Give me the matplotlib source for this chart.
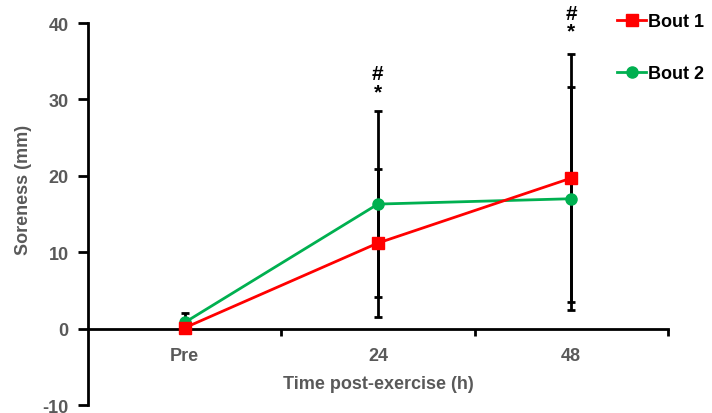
import numpy as np
import matplotlib
matplotlib.use("Agg")
import matplotlib.pyplot as plt

plt.rcParams['font.family'] = ['Liberation Sans', 'DejaVu Sans']
plt.rcParams['axes.unicode_minus'] = False

# data
times = ["Pre", "24", "48"]
bout1 = [0.1, 11.2, 19.7]
bout1_sd = [0.4, 9.7, 16.2]
bout2 = [0.8, 16.3, 17.0]
bout2_sd = [1.3, 12.2, 14.6]
marks = ["", "#\n*", "#\n*"]
mark_y = [0, 29.8, 37.7]

fig = plt.figure(figsize=(7.12, 4.14), dpi=100)
ax = fig.add_axes([0.1236, 0.0193, 0.8144, 0.9227])

x = np.arange(len(times))
grey = "#595959"

# error bars (black)
ax.errorbar(x, bout2, yerr=bout2_sd, fmt="none", ecolor="black", elinewidth=2,
            capsize=3, capthick=2, zorder=2)
ax.errorbar(x, bout1, yerr=bout1_sd, fmt="none", ecolor="black", elinewidth=2,
            capsize=3, capthick=2, zorder=2)

l1, = ax.plot(x, bout1, color="#FF0000", marker="s", markersize=8, lw=2,
              label="Bout 1", zorder=4)
l2, = ax.plot(x, bout2, color="#00B050", marker="o", markersize=8, lw=2,
              label="Bout 2", zorder=3)

for xi, m, my in zip(x, marks, mark_y):
    if m:
        ax.text(xi, my, m, ha="center", va="bottom", fontsize=15,
                fontweight="bold", linespacing=0.9, clip_on=False)

ax.set_xlim(-0.5, 2.5)
ax.set_ylim(-10, 40)
ax.set_yticks([-10, 0, 10, 20, 30, 40])
ax.set_xticks(x)
ax.set_xticklabels(times)
ax.set_xticks([0.5, 1.5, 2.5], minor=True)

ax.spines["top"].set_visible(False)
ax.spines["right"].set_visible(False)
ax.spines["bottom"].set_position(("data", 0))
ax.spines["bottom"].set_linewidth(2)
ax.spines["left"].set_linewidth(2)

ax.tick_params(axis="x", which="major", length=0, pad=13, labelsize=13,
               labelcolor=grey)
ax.tick_params(axis="x", which="minor", length=5, width=2, direction="out")
ax.tick_params(axis="y", length=7, width=2, direction="out", labelsize=13,
               labelcolor=grey, pad=7)
for lab in ax.get_xticklabels() + ax.get_yticklabels():
    lab.set_fontweight("bold")

ax.set_xlabel("Time post-exercise (h)", fontsize=13, fontweight="bold", color=grey)
ax.xaxis.set_label_coords(0.5, 0.078)
ax.set_ylabel("Soreness (mm)", fontsize=13, fontweight="bold", color=grey)
ax.yaxis.set_label_coords(-0.097, 0.565)

leg = fig.legend(handles=[l1, l2], loc="upper left", bbox_to_anchor=(0.862, 0.975),
                 frameon=False, fontsize=13, handlelength=1.6, handletextpad=0.1,
                 labelspacing=1.95, borderaxespad=0, borderpad=0.2)
for t in leg.get_texts():
    t.set_fontweight("bold")
    t.set_color("black")

fig.savefig("out.png", dpi=100)
